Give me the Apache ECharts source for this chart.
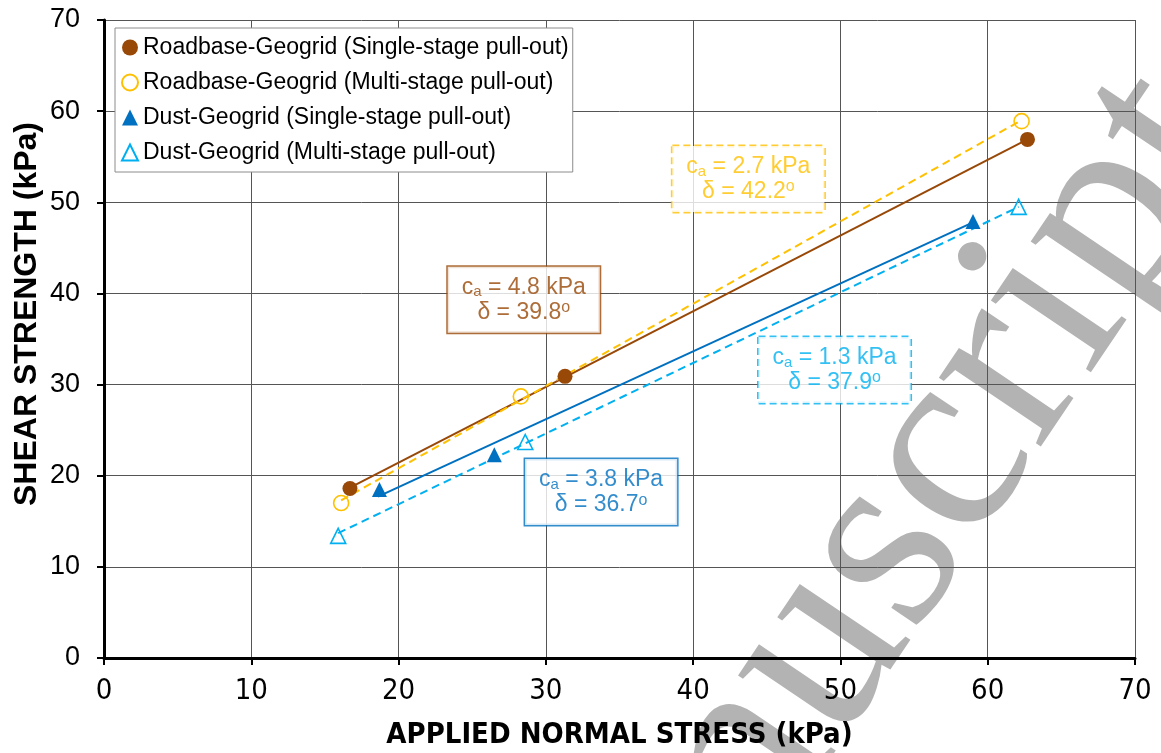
<!DOCTYPE html>
<html>
<head>
<meta charset="utf-8">
<script src="https://cdn.jsdelivr.net/npm/echarts@6/dist/echarts.min.js"></script>
<style>
  html, body { margin: 0; padding: 0; background: #fff; }
  #chart { width: 1161px; height: 753px; }
</style>
</head>
<body>
<div id="chart"></div>
<script>
// series names (legend)
var seriesNames = [
  'Roadbase-Geogrid (Single-stage pull-out)',
  'Roadbase-Geogrid (Multi-stage pull-out)',
  'Dust-Geogrid (Single-stage pull-out)',
  'Dust-Geogrid (Multi-stage pull-out)'
];

// measured points: normal stress (x) / shear strength (y), kPa
var rbSingleX = [16.7, 31.3, 62.7];
var rbSingleY = [18.6, 30.9, 56.9];
var rbMultiX = [16.1, 28.3, 62.3];
var rbMultiY = [17.0, 28.7, 58.9];
var dSingleX = [18.7, 26.5, 59.0];
var dSingleY = [18.5, 22.3, 47.9];
var dMultiX = [15.9, 28.6, 62.1];
var dMultiY = [13.4, 23.7, 49.5];

// fitted lines (end points)
var rbSingleFitX = [16.7, 62.7];
var rbSingleFitY = [18.7, 56.9];
var rbMultiFitX = [16.1, 62.3];
var rbMultiFitY = [17.3, 59.0];
var dSingleFitX = [18.6, 59.0];
var dSingleFitY = [17.7, 47.8];
var dMultiFitX = [15.9, 62.1];
var dMultiFitY = [13.7, 49.5];

// fit parameters shown in the boxes
var adhesion = [4.8, 2.7, 3.8, 1.3];
var frictionAngle = [39.8, 42.2, 36.7, 37.9];

// axis ticks
var xTicks = [0, 10, 20, 30, 40, 50, 60, 70];
var yTicks = [0, 10, 20, 30, 40, 50, 60, 70];

function pairs(xs, ys) {
  return xs.map(function (x, i) { return [x, ys[i]]; });
}

var colors = ['#984807', '#FFC000', '#0070C0', '#00B0F0'];
var fontMain = 'Liberation Sans';
var fontNarrow = '"Liberation Sans Narrow", "DejaVu Sans Condensed", "Liberation Sans", sans-serif';

// box centres (data coords), border type of each box
var boxAt = [[28.5, 39.3], [43.75, 52.55], [33.75, 18.2], [49.6, 31.6]];
var boxDash = ['solid', 'dashed', 'solid', 'dashed'];

var chart = echarts.init(document.getElementById('chart'));

var fitLine = function (xs, ys, color, dashed) {
  return {
    type: 'line',
    data: pairs(xs, ys),
    symbol: 'none',
    silent: true,
    z: 2,
    lineStyle: { color: color, width: 2, type: dashed ? [8, 5] : 'solid' }
  };
};

var points = function (name, xs, ys, symbol, color, open) {
  return {
    name: name,
    type: 'scatter',
    data: pairs(xs, ys),
    symbol: symbol,
    symbolSize: 15,
    z: 3,
    itemStyle: open
      ? { color: 'rgba(255,255,255,0)', borderColor: color, borderWidth: 1.6, opacity: 1 }
      : { color: color, opacity: 1 }
  };
};

var boxes = {
  type: 'scatter',
  silent: true,
  z: 5,
  symbolSize: 1,
  itemStyle: { color: 'rgba(0,0,0,0)' },
  data: boxAt.map(function (p, i) {
    var c = colors[i];
    return {
      value: p,
      label: {
        show: true,
        position: 'inside',
        formatter: '{t|c}{s|a}{t| = ' + adhesion[i].toFixed(1) + ' kPa}\n{t|\u03b4 = ' +
          frictionAngle[i].toFixed(1) + '}{o|o}',
        backgroundColor: '#fff',
        borderColor: c,
        borderWidth: 1.5,
        borderType: boxDash[i] === 'dashed' ? [7, 4] : 'solid',
        padding: [8, 14, 8, 14],
        align: 'center',
        color: c,
        rich: {
          t: { color: c, fontSize: 23, fontFamily: fontMain, lineHeight: 25 },
          s: { color: c, fontSize: 15, fontFamily: fontMain, lineHeight: 25, verticalAlign: 'bottom' },
          o: { color: c, fontSize: 16, fontFamily: fontMain, lineHeight: 25, verticalAlign: 'top' }
        }
      }
    };
  })
};

var option = {
  backgroundColor: '#fff',
  animation: false,
  grid: { left: 104, right: 26, top: 20, bottom: 95, containLabel: false, outerBoundsMode: 'none' },
  xAxis: {
    type: 'value',
    min: xTicks[0],
    max: xTicks[xTicks.length - 1],
    interval: 10,
    name: 'APPLIED NORMAL STRESS (kPa)',
    nameLocation: 'middle',
    nameGap: 63,
    nameTextStyle: { fontFamily: fontNarrow, fontWeight: 'bold', fontSize: 29, color: '#000' },
    axisLine: { show: true, onZero: false, lineStyle: { color: '#000', width: 3 } },
    axisTick: { show: true, length: 7, lineStyle: { color: '#000', width: 2 } },
    axisLabel: { color: '#000', fontFamily: fontNarrow, fontSize: 29, margin: 19 },
    splitLine: { show: true, lineStyle: { color: '#555', width: 1 } }
  },
  yAxis: {
    type: 'value',
    min: yTicks[0],
    max: yTicks[yTicks.length - 1],
    interval: 10,
    axisLine: { show: true, onZero: false, lineStyle: { color: '#000', width: 3 } },
    axisTick: { show: true, length: 7, lineStyle: { color: '#000', width: 2 } },
    axisLabel: { color: '#000', fontFamily: fontMain, fontSize: 27, margin: 24 },
    splitLine: { show: true, lineStyle: { color: '#555', width: 1 } }
  },
  legend: {
    data: seriesNames,
    orient: 'vertical',
    left: 115,
    top: 28,
    padding: [8, 4, 8, 6],
    itemGap: 12,
    itemWidth: 16,
    itemHeight: 16,
    backgroundColor: '#fff',
    borderColor: '#8c8c8c',
    borderWidth: 1,
    borderRadius: 0,
    textStyle: { color: '#000', fontFamily: fontMain, fontSize: 23 }
  },
  graphic: [
    {
      // grey watermark lying under the plot
      type: 'text',
      z: -10,
      silent: true,
      x: 505,
      y: 1115,
      rotation: 56 * Math.PI / 180,
      style: {
        text: 'Manuscript',
        font: '268px "Liberation Serif"',
        fill: '#b3b3b3',
        align: 'left',
        verticalAlign: 'middle'
      }
    },
    {
      type: 'text',
      silent: true,
      x: 27,
      y: 314,
      rotation: Math.PI / 2,
      style: {
        text: 'SHEAR STRENGTH (kPa)',
        font: 'bold 32px "Liberation Sans"',
        fill: '#000',
        align: 'center',
        verticalAlign: 'middle'
      }
    }
  ],
  series: [
    fitLine(rbSingleFitX, rbSingleFitY, colors[0], false),
    fitLine(rbMultiFitX, rbMultiFitY, colors[1], true),
    fitLine(dSingleFitX, dSingleFitY, colors[2], false),
    fitLine(dMultiFitX, dMultiFitY, colors[3], true),
    points(seriesNames[0], rbSingleX, rbSingleY, 'circle', colors[0], false),
    points(seriesNames[1], rbMultiX, rbMultiY, 'circle', colors[1], true),
    points(seriesNames[2], dSingleX, dSingleY, 'triangle', colors[2], false),
    points(seriesNames[3], dMultiX, dMultiY, 'triangle', colors[3], true),
    boxes
  ]
};

chart.setOption(option);
window.addEventListener('resize', function () { chart.resize(); });
</script>
</body>
</html>
